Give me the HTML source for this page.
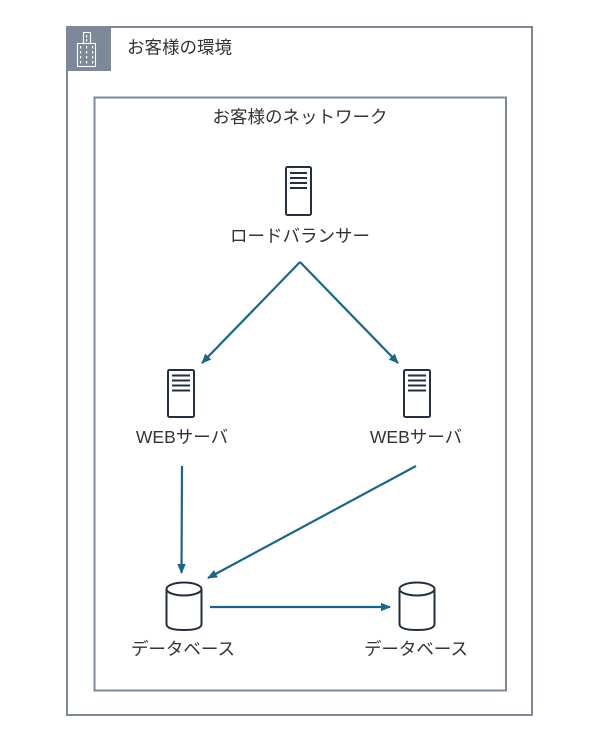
<!DOCTYPE html>
<html>
<head>
<meta charset="utf-8">
<style>
html,body{margin:0;padding:0;background:#fff;}
svg{display:block;}
text{font-family:"Liberation Sans","Noto Sans CJK JP",sans-serif;fill:#333;font-size:17.5px;}
</style>
</head>
<body>
<svg width="600" height="742" viewBox="0 0 600 742" xmlns="http://www.w3.org/2000/svg">
  <defs>
    <marker id="ah" markerWidth="10" markerHeight="10" refX="9" refY="5" orient="auto" markerUnits="userSpaceOnUse">
      <path d="M0,0.8 L10,5 L0,9.2 Z" fill="#1b6687"/>
    </marker>
  </defs>
  <!-- outer box -->
  <rect x="67" y="27" width="465" height="688" fill="none" stroke="#7d8998" stroke-width="2"/>
  <!-- icon square -->
  <rect x="66" y="26" width="45" height="45" fill="#7d8998"/>
  <g fill="none" stroke="#fff" stroke-width="1.1">
    <rect x="83.5" y="32.5" width="7" height="11"/>
    <rect x="77.5" y="43.5" width="18" height="23"/>
  </g>
  <g fill="#fff">
    <rect x="86" y="35" width="1.2" height="2.5"/>
    <rect x="86" y="39" width="1.2" height="2.5"/>
    <rect x="80" y="46" width="1.2" height="2.5"/><rect x="86" y="46" width="1.2" height="2.5"/><rect x="92" y="46" width="1.2" height="2.5"/>
    <rect x="80" y="51" width="1.2" height="2.5"/><rect x="86" y="51" width="1.2" height="2.5"/><rect x="92" y="51" width="1.2" height="2.5"/>
    <rect x="80" y="56" width="1.2" height="2.5"/><rect x="86" y="56" width="1.2" height="2.5"/><rect x="92" y="56" width="1.2" height="2.5"/>
    <rect x="80" y="61" width="1.2" height="2.5"/><rect x="86" y="61" width="1.2" height="2.5"/><rect x="92" y="61" width="1.2" height="2.5"/>
  </g>
  <text x="127" y="47.5" dominant-baseline="central">お客様の環境</text>

  <!-- inner box -->
  <rect x="94.5" y="97.5" width="411.5" height="593" fill="none" stroke="#7d8998" stroke-width="2"/>
  <text x="300" y="117" text-anchor="middle" dominant-baseline="central">お客様のネットワーク</text>

  <!-- server icons -->
  <g fill="none" stroke="#232f3e" stroke-width="2">
    <rect x="286" y="167" width="25" height="48" rx="1.5"/>
    <line x1="290" y1="173" x2="307" y2="173"/>
    <line x1="290" y1="178" x2="307" y2="178"/>
    <line x1="290" y1="183" x2="307" y2="183"/>
    <line x1="290" y1="188" x2="307" y2="188"/>

    <rect x="168" y="370" width="26" height="47" rx="1.5"/>
    <line x1="172" y1="375.5" x2="190" y2="375.5"/>
    <line x1="172" y1="380.5" x2="190" y2="380.5"/>
    <line x1="172" y1="385.5" x2="190" y2="385.5"/>
    <line x1="172" y1="390.5" x2="190" y2="390.5"/>

    <rect x="404" y="370" width="26" height="47" rx="1.5"/>
    <line x1="408" y1="375.5" x2="426" y2="375.5"/>
    <line x1="408" y1="380.5" x2="426" y2="380.5"/>
    <line x1="408" y1="385.5" x2="426" y2="385.5"/>
    <line x1="408" y1="390.5" x2="426" y2="390.5"/>

    <!-- databases -->
    <ellipse cx="184" cy="589" rx="17.5" ry="6.5"/>
    <path d="M166.5,589 V624 Q166.5,630 184,630 Q201.5,630 201.5,624 V589"/>
    <ellipse cx="417" cy="589" rx="17.5" ry="6.5"/>
    <path d="M399.5,589 V624 Q399.5,630 417,630 Q434.5,630 434.5,624 V589"/>
  </g>

  <text x="300" y="236" text-anchor="middle" dominant-baseline="central">ロードバランサー</text>
  <text x="182" y="437" text-anchor="middle" dominant-baseline="central">WEBサーバ</text>
  <text x="416" y="437" text-anchor="middle" dominant-baseline="central">WEBサーバ</text>
  <text x="183" y="649" text-anchor="middle" dominant-baseline="central">データベース</text>
  <text x="416" y="649" text-anchor="middle" dominant-baseline="central">データベース</text>

  <!-- connectors -->
  <g stroke="#1b6687" stroke-width="2.2" fill="none" marker-end="url(#ah)">
    <path d="M300,262 L202,363"/>
    <path d="M300,262 L398,363"/>
    <path d="M182,466 L181.5,573"/>
    <path d="M416,466 L208,578"/>
    <path d="M210,607 L390,607"/>
  </g>
</svg>
</body>
</html>
